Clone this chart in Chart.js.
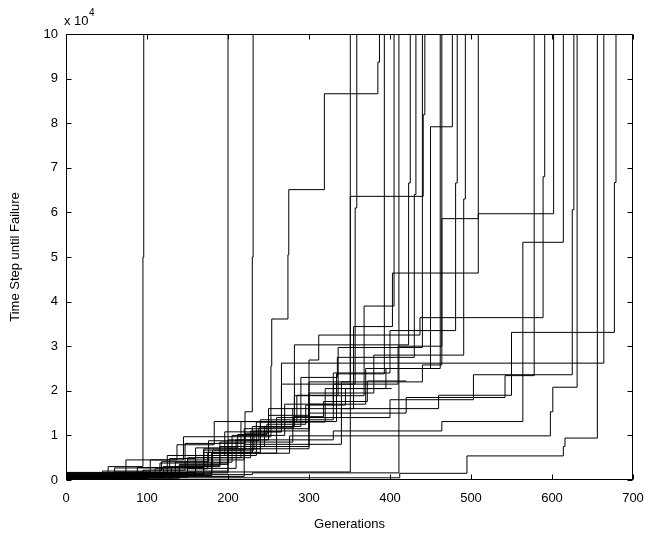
<!DOCTYPE html>
<html>
<head>
<meta charset="utf-8">
<script src="https://cdn.jsdelivr.net/npm/chart.js@4.4.0/dist/chart.umd.min.js"></script>
<style>
html,body{margin:0;padding:0;background:#ffffff;}
#wrap{width:648px;height:537px;position:relative;}
</style>
</head>
<body>
<div id="wrap"><canvas id="c" width="648" height="537"></canvas></div>
<script>
// Axis ticks
const xTickValues = [0, 100, 200, 300, 400, 500, 600, 700];
const yTickValues = [0, 1, 2, 3, 4, 5, 6, 7, 8, 9, 10];

// Each run: generations at which the best controller improved, and its time steps until failure (x 10^4)
const runGenerations = [
  [0, 52, 95, 96],
  [0, 62, 116, 200],
  [0, 40, 95, 147, 221, 230, 231],
  [0, 60, 104, 145, 253, 254, 274, 275, 319, 385, 387],
  [0, 150, 351],
  [0, 230, 411],
  [0, 70, 130, 181, 221, 250, 300, 351, 441, 443],
  [0, 88, 170, 232, 266, 357, 359],
  [0, 35, 74, 137, 183, 266, 664],
  [0, 90, 150, 216, 285, 336, 440],
  [0, 125, 196, 266, 334, 393],
  [0, 100, 170, 230, 282, 368, 405],
  [0, 140, 200, 250, 282, 423, 425],
  [0, 120, 190, 245, 290, 335, 430, 432],
  [0, 160, 228, 300, 370, 450, 477],
  [0, 110, 175, 240, 320, 395, 462],
  [0, 130, 180, 260, 340, 440, 464],
  [0, 135, 205, 270, 330, 400, 481, 483],
  [0, 80, 150, 220, 300, 380, 491, 493],
  [0, 170, 240, 330, 410, 464, 509],
  [0, 120, 200, 300, 420, 542, 578],
  [0, 160, 235, 300, 312, 437, 589, 591],
  [0, 140, 190, 280, 355, 403, 509, 602],
  [0, 150, 210, 330, 464, 564, 614],
  [0, 200, 300, 400, 503, 625, 627],
  [0, 180, 276, 598, 601, 631],
  [0, 412, 495, 614, 616, 656],
  [0, 220, 340, 460, 550, 677, 679],
  [0, 60, 128, 160, 212, 248, 296, 345, 402],
  [0, 45, 118, 176, 238, 281, 318, 372, 420]
];
const runTimeSteps = [
  [0.05, 0.30, 5.00, 10],
  [0.08, 0.15, 0.38, 10],
  [0.03, 0.12, 0.22, 0.82, 1.53, 5.00, 10],
  [0.10, 0.18, 0.45, 0.97, 2.56, 3.61, 5.05, 6.51, 8.66, 9.37, 10],
  [0.14, 0.18, 10],
  [0.12, 0.16, 10],
  [0.02, 0.13, 0.30, 0.67, 1.05, 1.45, 2.20, 6.36, 8.19, 10],
  [0.10, 0.28, 0.67, 1.08, 2.15, 6.10, 10],
  [0.04, 0.10, 0.45, 0.79, 1.31, 2.62, 10],
  [0.05, 0.16, 0.50, 1.31, 1.90, 2.97, 10],
  [0.15, 0.55, 1.08, 1.31, 2.38, 10],
  [0.03, 0.12, 0.62, 1.20, 1.89, 3.90, 10],
  [0.10, 0.35, 0.90, 1.60, 3.03, 6.66, 10],
  [0.06, 0.30, 0.75, 1.20, 2.30, 2.75, 6.40, 10],
  [0.17, 0.50, 1.10, 1.70, 2.50, 7.92, 10],
  [0.08, 0.25, 0.62, 1.30, 2.05, 2.50, 10],
  [0.02, 0.15, 0.60, 1.40, 2.20, 2.58, 10],
  [0.11, 0.40, 1.00, 1.70, 2.40, 3.35, 6.66, 10],
  [0.05, 0.14, 0.45, 1.15, 1.95, 2.80, 6.30, 10],
  [0.13, 0.70, 1.35, 2.15, 3.00, 5.86, 10],
  [0.08, 0.20, 0.75, 1.50, 1.85, 2.34, 10],
  [0.09, 0.55, 1.30, 2.69, 3.25, 3.64, 6.80, 10],
  [0.04, 0.33, 0.85, 1.60, 3.44, 4.64, 5.97, 10],
  [0.06, 0.26, 0.90, 1.10, 1.31, 5.33, 10],
  [0.16, 0.70, 1.40, 1.80, 2.36, 6.06, 10],
  [0.10, 0.60, 0.99, 1.53, 2.08, 10],
  [0.05, 0.15, 0.54, 0.75, 0.94, 10],
  [0.08, 0.80, 1.60, 1.90, 3.31, 6.67, 10],
  [0.07, 0.27, 0.48, 0.72, 1.02, 1.25, 1.68, 2.05, 2.05],
  [0.12, 0.20, 0.41, 0.88, 1.17, 1.42, 1.76, 2.22, 2.22]
];

function stepPoints(gens, vals) {
  const pts = [];
  for (let i = 0; i < gens.length; i++) {
    if (i > 0) pts.push({x: gens[i], y: vals[i - 1]});
    pts.push({x: gens[i], y: vals[i]});
  }
  return pts;
}

const datasets = runGenerations.map((g, i) => ({
  label: 'Run ' + (i + 1),
  data: stepPoints(g, runTimeSteps[i]),
  borderColor: '#000000',
  borderWidth: 1,
  pointRadius: 0,
  fill: false,
  tension: 0
}));

const FONT = "'Liberation Sans', Arial, sans-serif";

const matlabBox = {
  id: 'matlabBox',
  afterDraw(chart) {
    const ctx = chart.ctx;
    const a = chart.chartArea;
    const xs = chart.scales.x, ys = chart.scales.y;
    ctx.save();
    ctx.strokeStyle = '#000000';
    ctx.lineWidth = 1;
    const L = Math.round(a.left) + 0.5, R = Math.round(a.right) - 0.5;
    const T = Math.round(a.top) + 0.5, B = Math.round(a.bottom) - 0.5;
    ctx.strokeRect(L, T, R - L, B - T);
    const tl = 5;
    ctx.beginPath();
    xTickValues.forEach(v => {
      const px = Math.round(xs.getPixelForValue(v)) + 0.5;
      ctx.moveTo(px, B); ctx.lineTo(px, B - tl);
      ctx.moveTo(px, T); ctx.lineTo(px, T + tl);
    });
    yTickValues.forEach(v => {
      const py = Math.round(ys.getPixelForValue(v)) + 0.5;
      ctx.moveTo(L, py); ctx.lineTo(L + tl, py);
      ctx.moveTo(R, py); ctx.lineTo(R - tl, py);
    });
    ctx.stroke();
    // exponent label
    ctx.fillStyle = '#000000';
    ctx.textBaseline = 'alphabetic';
    ctx.textAlign = 'left';
    ctx.font = "13px " + FONT;
    ctx.fillText('x 10', 64, 25);
    ctx.font = "10px " + FONT;
    ctx.fillText('4', 89, 16);
    ctx.restore();
  }
};

new Chart(document.getElementById('c'), {
  type: 'line',
  data: { datasets },
  options: {
    responsive: false,
    animation: false,
    devicePixelRatio: 1,
    layout: { padding: { top: 34, right: 15, left: 0, bottom: 0 } },
    plugins: { legend: { display: false }, tooltip: { enabled: false } },
    elements: { line: { borderCapStyle: 'butt', borderJoinStyle: 'miter' } },
    scales: {
      x: {
        type: 'linear',
        min: 0, max: 700,
        afterFit(s) { s.height = 57; s.paddingLeft = 0; s.paddingRight = 0; },
        afterBuildTicks(s) { s.ticks = xTickValues.map(v => ({value: v})); },
        grid: { display: false, drawTicks: false },
        border: { display: false },
        ticks: { color: '#000000', padding: 11, maxRotation: 0, font: { family: FONT, size: 13 } },
        title: { display: true, text: 'Generations', color: '#000000', padding: { top: 0, bottom: 5 }, font: { family: FONT, size: 13 } }
      },
      y: {
        type: 'linear',
        min: 0, max: 10,
        afterFit(s) { s.width = 66; s.paddingTop = 0; s.paddingBottom = 0; },
        afterBuildTicks(s) { s.ticks = yTickValues.map(v => ({value: v})); },
        grid: { display: false, drawTicks: false },
        border: { display: false },
        ticks: { color: '#000000', padding: 8, font: { family: FONT, size: 13 } },
        title: { display: true, text: 'Time Step until Failure', color: '#000000', padding: { top: 8, bottom: 0 }, font: { family: FONT, size: 13 } }
      }
    }
  },
  plugins: [matlabBox]
});
</script>
</body>
</html>
